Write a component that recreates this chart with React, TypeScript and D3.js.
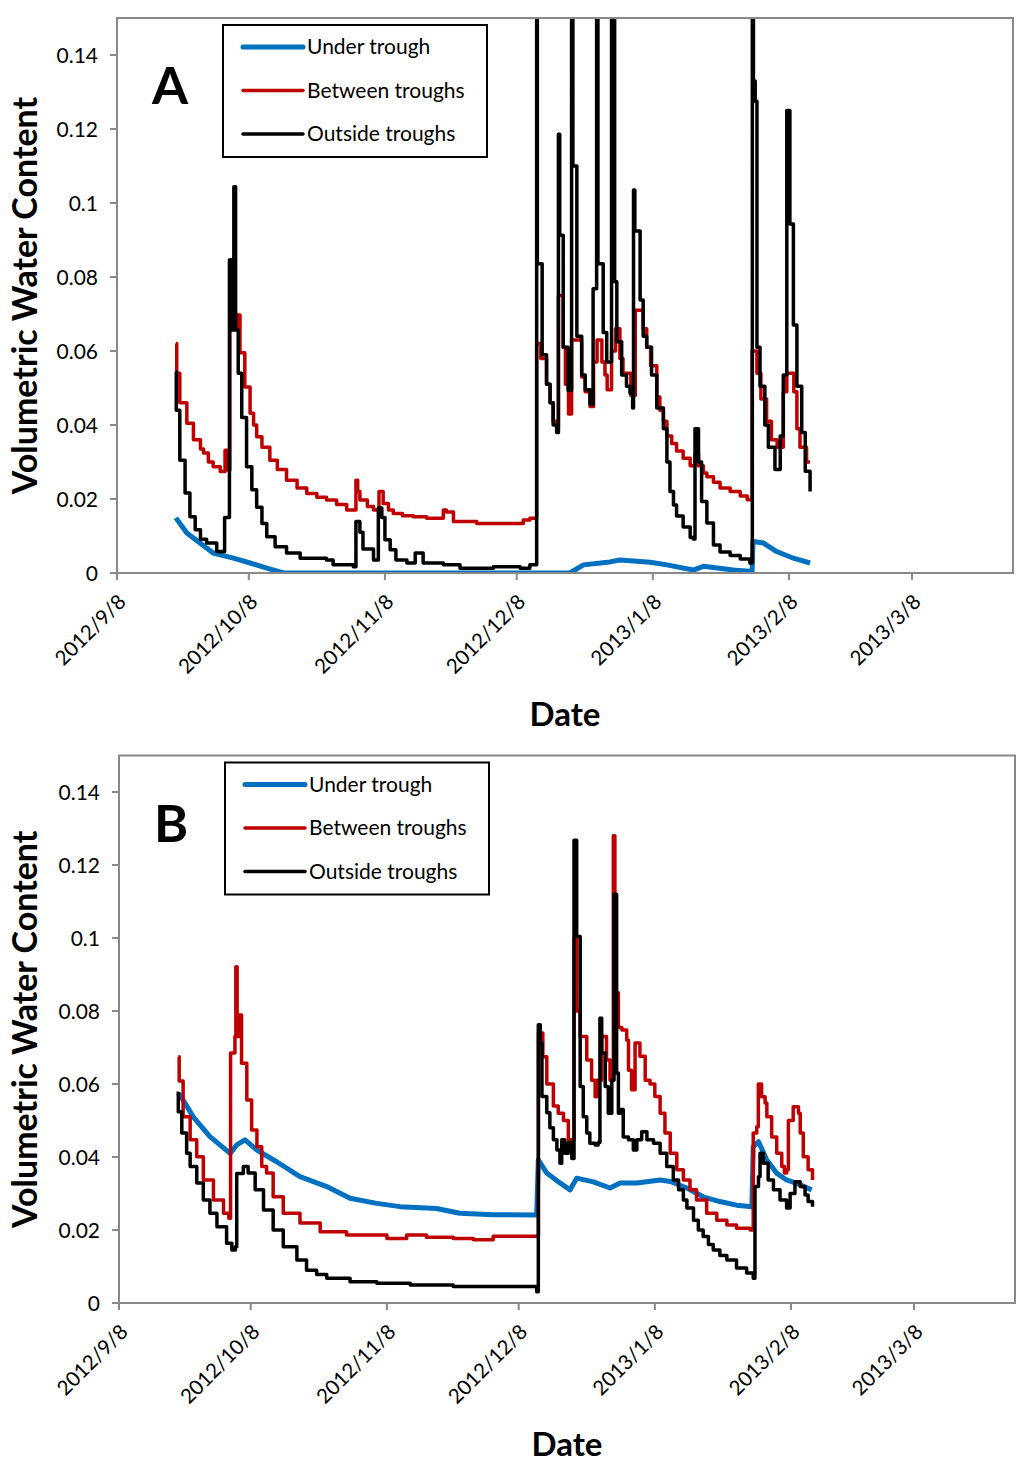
import React from 'react';
import * as d3 from 'd3';

type Pt = [number, number];

// x = days after 2012/9/8, y = volumetric water content (m3/m3)

// ---- panel A ----
const underA: Pt[] = [
  [13.4, 0.0149], [15.9, 0.0108], [18.9, 0.0081], [21.9, 0.0054], [26.5, 0.004], [30.3, 0.0027],
  [34.1, 0.0013], [37.9, 0.0], [103.1, 0.0], [106.2, 0.0022], [112.2, 0.003], [114.5, 0.0035],
  [121.4, 0.0029], [125.2, 0.0022], [131.2, 0.0008], [133.5, 0.0018], [140.3, 0.0008], [144.6, 0.0004],
  [144.8, 0.0085], [147.2, 0.0081], [150.2, 0.0058], [154.0, 0.004], [157.8, 0.0027],
];

const betweenA: Pt[] = [
  [13.4, 0.062], [13.6, 0.054], [14.3, 0.046], [15.9, 0.0405], [17.4, 0.036], [19.0, 0.0335],
  [19.7, 0.0324], [20.8, 0.03], [21.9, 0.0287], [23.5, 0.0274], [24.6, 0.0332], [25.3, 0.0278],
  [25.7, 0.0846], [26.5, 0.07], [27.2, 0.0657], [27.5, 0.0697], [28.0, 0.0595], [29.1, 0.0503],
  [30.3, 0.0432], [31.1, 0.04], [31.8, 0.0368], [33.0, 0.034], [34.8, 0.0305], [36.5, 0.028],
  [38.6, 0.0251], [41.0, 0.023], [43.2, 0.0215], [45.5, 0.0205], [47.7, 0.0197], [50.0, 0.0185],
  [52.3, 0.017], [54.4, 0.0251], [54.8, 0.022], [55.3, 0.0197], [57.0, 0.018], [58.4, 0.017],
  [59.65, 0.022], [60.6, 0.0188], [61.8, 0.017], [62.9, 0.0161], [65.0, 0.0155], [67.5, 0.0152],
  [70.5, 0.0148], [74.3, 0.017], [75.0, 0.0165], [76.6, 0.0139], [81.9, 0.0134], [92.5, 0.0143],
  [94.0, 0.0148], [95.55, 0.062], [96.5, 0.058], [97.8, 0.051], [98.6, 0.046], [99.3, 0.041],
  [100.1, 0.039], [100.5, 0.075], [101.6, 0.061], [102.1, 0.051], [102.8, 0.043], [103.5, 0.063],
  [105.8, 0.053], [106.6, 0.049], [107.7, 0.045], [108.5, 0.057], [109.3, 0.063], [110.4, 0.057],
  [111.1, 0.0535], [111.6, 0.0495], [112.6, 0.06], [113.5, 0.066], [114.5, 0.058], [115.2, 0.054],
  [117.0, 0.048], [118.0, 0.071], [119.8, 0.066], [120.6, 0.061], [121.5, 0.056], [122.9, 0.0476],
  [123.6, 0.044], [124.4, 0.041], [125.2, 0.037], [126.3, 0.035], [127.4, 0.033], [128.9, 0.031],
  [130.5, 0.029], [131.6, 0.032], [132.4, 0.029], [133.5, 0.027], [134.3, 0.026], [135.8, 0.0245],
  [137.3, 0.023], [139.6, 0.022], [141.9, 0.0208], [143.5, 0.0198], [144.6, 0.06], [145.7, 0.054],
  [146.6, 0.047], [147.9, 0.041], [149.0, 0.036], [150.3, 0.034], [151.7, 0.049], [152.5, 0.054],
  [154.1, 0.049], [154.8, 0.039], [155.5, 0.034], [157.0, 0.03], [157.8, 0.03],
];

const outsideA: Pt[] = [
  [13.4, 0.0544], [13.5, 0.044], [14.3, 0.0305], [15.5, 0.0216], [16.6, 0.0152], [17.8, 0.0117],
  [19.0, 0.0091], [20.4, 0.0081], [22.7, 0.0058], [24.5, 0.015], [25.6, 0.0846], [26.1, 0.0657],
  [26.6, 0.1044], [27.0, 0.0657], [27.6, 0.054], [28.4, 0.042], [29.5, 0.0287], [30.7, 0.0225],
  [31.8, 0.0178], [33.0, 0.0134], [34.1, 0.0098], [36.0, 0.0071], [38.6, 0.0054], [41.7, 0.004],
  [47.7, 0.0035], [49.2, 0.0022], [53.8, 0.0017], [54.4, 0.0139], [55.3, 0.011], [56.0, 0.0065],
  [58.4, 0.0035], [59.5, 0.0176], [60.3, 0.015], [61.0, 0.009], [62.2, 0.0063], [63.5, 0.0035],
  [66.0, 0.0027], [67.9, 0.0054], [69.7, 0.0027], [74.3, 0.0022], [78.1, 0.0013], [85.7, 0.0017],
  [91.8, 0.0013], [94.0, 0.0022], [95.55, 0.2], [95.7, 0.0836], [96.8, 0.059], [97.8, 0.051],
  [98.6, 0.046], [99.3, 0.04], [100.1, 0.038], [100.5, 0.1186], [100.8, 0.0913], [101.6, 0.061],
  [102.7, 0.0494], [103.5, 0.2], [103.8, 0.11], [104.7, 0.064], [105.8, 0.0535], [106.6, 0.0495],
  [107.7, 0.0456], [108.4, 0.0768], [109.2, 0.2], [109.5, 0.0836], [110.7, 0.065], [111.5, 0.057],
  [112.6, 0.2], [113.3, 0.0787], [113.8, 0.0625], [114.9, 0.0535], [116.0, 0.0505], [116.8, 0.0486],
  [117.4, 0.0446], [117.6, 0.1035], [117.9, 0.0924], [119.1, 0.0738], [119.8, 0.064], [120.6, 0.061],
  [121.7, 0.0535], [122.9, 0.0446], [124.4, 0.039], [125.2, 0.03], [125.9, 0.022], [126.7, 0.0184],
  [127.4, 0.0154], [128.9, 0.0124], [130.5, 0.0096], [131.2, 0.0092], [131.6, 0.039], [132.4, 0.03],
  [133.1, 0.0193], [134.3, 0.0135], [135.8, 0.0076], [137.3, 0.0057], [139.6, 0.0047], [141.9, 0.0038],
  [144.1, 0.0027], [144.65, 0.2], [144.9, 0.133], [145.3, 0.1275], [145.7, 0.061], [146.4, 0.0505],
  [147.5, 0.04], [148.3, 0.034], [149.8, 0.028], [151.0, 0.037], [151.7, 0.0535], [152.5, 0.125],
  [153.2, 0.0943], [154.0, 0.067], [154.8, 0.0505], [155.9, 0.038], [156.7, 0.0275], [157.8, 0.022],
];

// ---- panel B ----
const underB: Pt[] = [
  [13.5, 0.0575], [14.6, 0.0556], [16.9, 0.051], [20.7, 0.0456], [25.3, 0.041], [26.8, 0.0433],
  [28.7, 0.0447], [31.4, 0.0419], [35.9, 0.0387], [41.2, 0.0346], [47.3, 0.0319], [52.6, 0.0287],
  [58.7, 0.0273], [64.0, 0.0264], [72.3, 0.0259], [77.6, 0.0246], [85.2, 0.0242], [95.1, 0.0241],
  [95.47, 0.0392], [97.4, 0.0356], [100.4, 0.0329], [102.7, 0.031], [104.2, 0.0342], [108.0, 0.0332],
  [111.8, 0.0315], [114.1, 0.0329], [117.9, 0.0329], [123.2, 0.0337], [125.5, 0.0333], [129.3, 0.0315],
  [133.0, 0.0291], [136.8, 0.0278], [140.6, 0.0268], [144.1, 0.0264], [144.4, 0.0428], [145.6, 0.0442],
  [147.5, 0.0392], [149.8, 0.0355], [152.0, 0.0337], [154.3, 0.0328], [157.7, 0.031],
];

const betweenB: Pt[] = [
  [13.5, 0.0675], [13.7, 0.0608], [14.6, 0.051], [16.2, 0.0447], [17.7, 0.0401], [19.2, 0.0337],
  [21.5, 0.0282], [23.8, 0.0246], [25.0, 0.0232], [25.4, 0.0685], [26.4, 0.073], [26.6, 0.0921],
  [26.9, 0.073], [27.4, 0.0789], [27.9, 0.0657], [29.1, 0.0556], [30.2, 0.0474], [31.4, 0.0428],
  [32.5, 0.0374], [33.6, 0.0356], [35.1, 0.0291], [37.4, 0.0246], [41.2, 0.0219], [45.8, 0.0195],
  [51.8, 0.0186], [61.0, 0.0177], [65.5, 0.0186], [70.0, 0.018], [76.1, 0.0177], [80.7, 0.0173],
  [85.2, 0.0183], [95.5, 0.074], [96.5, 0.0675], [97.4, 0.06], [98.9, 0.054], [100.0, 0.052],
  [101.2, 0.05], [102.3, 0.0447], [103.6, 0.1], [104.2, 0.08], [105.0, 0.073], [106.5, 0.0666],
  [107.6, 0.061], [108.4, 0.0565], [108.8, 0.061], [109.9, 0.073], [111.0, 0.0666], [111.8, 0.061],
  [112.55, 0.128], [112.9, 0.085], [113.7, 0.0755], [114.5, 0.0748], [115.6, 0.072], [116.0, 0.0638],
  [116.7, 0.0584], [117.5, 0.0712], [118.6, 0.0676], [119.8, 0.061], [120.9, 0.06], [122.0, 0.0566],
  [123.2, 0.052], [124.3, 0.0466], [125.5, 0.041], [127.0, 0.0365], [128.5, 0.0337], [130.0, 0.031],
  [131.5, 0.0282], [133.8, 0.0246], [136.1, 0.0227], [138.4, 0.0214], [140.6, 0.0205], [143.7, 0.02],
  [144.4, 0.0466], [145.2, 0.0483], [145.56, 0.06], [146.3, 0.0565], [147.1, 0.0548], [147.5, 0.051],
  [148.6, 0.0455], [149.75, 0.041], [150.9, 0.0374], [151.5, 0.0356], [152.0, 0.0365], [152.4, 0.05],
  [153.5, 0.0538], [154.7, 0.052], [155.1, 0.0466], [155.8, 0.0401], [156.9, 0.0365], [157.9, 0.0337],
];

const outsideB: Pt[] = [
  [13.1, 0.0575], [13.5, 0.0524], [14.3, 0.0466], [15.4, 0.041], [16.2, 0.0374], [17.7, 0.0329],
  [19.2, 0.0282], [20.7, 0.0246], [22.3, 0.0209], [24.5, 0.0164], [25.7, 0.0145], [26.5, 0.0154],
  [26.8, 0.0355], [28.3, 0.0374], [29.4, 0.0356], [31.0, 0.031], [32.9, 0.0255], [35.1, 0.02],
  [37.4, 0.0154], [40.5, 0.0118], [42.7, 0.009], [45.0, 0.0078], [47.3, 0.0068], [52.6, 0.0058],
  [58.7, 0.0054], [66.3, 0.0049], [76.1, 0.0045], [95.1, 0.0031], [95.47, 0.0762], [95.9, 0.0712],
  [96.3, 0.0566], [97.4, 0.0521], [98.1, 0.048], [98.9, 0.0447], [99.7, 0.0419], [100.4, 0.0383],
  [100.8, 0.0447], [101.5, 0.041], [102.3, 0.044], [103.1, 0.0396], [103.6, 0.1268], [104.2, 0.1004],
  [105.0, 0.0593], [105.7, 0.051], [106.5, 0.0466], [107.2, 0.0438], [108.4, 0.0433], [109.1, 0.044],
  [109.5, 0.078], [109.9, 0.0685], [110.7, 0.0593], [111.4, 0.052], [112.2, 0.061], [112.7, 0.112],
  [113.3, 0.063], [113.7, 0.052], [114.1, 0.053], [114.8, 0.0455], [116.0, 0.0447], [117.1, 0.0419],
  [117.9, 0.0447], [119.0, 0.0469], [120.2, 0.0447], [121.7, 0.0438], [123.2, 0.041], [124.7, 0.0374],
  [126.2, 0.0337], [127.4, 0.031], [128.5, 0.0282], [129.3, 0.026], [130.8, 0.0227], [131.9, 0.02],
  [133.0, 0.0182], [134.2, 0.016], [135.3, 0.0145], [136.8, 0.013], [138.4, 0.0118], [140.6, 0.0096],
  [142.9, 0.0082], [144.4, 0.0068], [144.8, 0.0319], [145.6, 0.0346], [145.95, 0.041], [146.7, 0.0383],
  [147.8, 0.0337], [149.0, 0.031], [150.5, 0.0282], [152.0, 0.026], [152.8, 0.03], [153.9, 0.0332],
  [155.1, 0.0319], [156.2, 0.0296], [156.9, 0.0278], [157.9, 0.0264],
];

const seriesNames = ['Under trough', 'Between troughs', 'Outside troughs'];
const seriesColors = ['#0070C0', '#C00000', '#000000'];
const seriesWidths = [5, 3.5, 3.5];
const tickDates = ['2012-09-08', '2012-10-08', '2012-11-08', '2012-12-08', '2013-01-08', '2013-02-08', '2013-03-08'];
const yTicks = [0, 0.02, 0.04, 0.06, 0.08, 0.1, 0.12, 0.14];

const t0 = Date.UTC(2012, 8, 8);
const dayToDate = (d: number) => new Date(t0 + d * 864e5);
const xDomain = [new Date(t0), new Date(Date.UTC(2013, 2, 31))];
const fmtDate = d3.utcFormat('%Y/%-m/%-d');
const axisGrey = '#898989';
const font = 'Lato, "Open Sans", sans-serif';

interface PanelProps {
  id: string;
  left: number;
  right: number;
  top: number;
  bottom: number;
  series: Pt[][];
}

const Panel: React.FC<PanelProps> = ({ id, left, right, top, bottom, series }) => {
  const x = d3.scaleUtc().domain(xDomain).range([left, right]);
  const y = d3.scaleLinear().domain([0, 0.15]).range([bottom, top]);
  const px = (d: Pt) => x(dayToDate(d[0]));
  const py = (d: Pt) => y(d[1]);
  const smooth = d3.line<Pt>().x(px).y(py);
  const steps = d3.line<Pt>().x(px).y(py).curve(d3.curveStepAfter);
  const midX = (left + right) / 2;
  const midY = (top + bottom) / 2;
  const legX = left + 106;
  const legY = top + 7;

  return (
    <g fontFamily={font}>
      <defs>
        <clipPath id={`clip-${id}`}>
          <rect x={left} y={top} width={right - left} height={bottom - top} />
        </clipPath>
      </defs>

      <g clipPath={`url(#clip-${id})`} fill="none" strokeLinejoin="round">
        {series.map((s, i) => (
          <path
            key={i}
            d={(i === 0 ? smooth(s) : steps(s)) ?? ''}
            stroke={seriesColors[i]}
            strokeWidth={seriesWidths[i]}
          />
        ))}
      </g>

      <rect x={left} y={top} width={right - left} height={bottom - top} fill="none" stroke={axisGrey} strokeWidth={2} />

      {yTicks.map(t => (
        <g key={t}>
          <line x1={left - 7} x2={left} y1={y(t)} y2={y(t)} stroke={axisGrey} strokeWidth={2} />
          <text x={left - 19} y={y(t)} dy="0.36em" textAnchor="end" fontSize={21} fill="#000">
            {String(+t.toFixed(2))}
          </text>
        </g>
      ))}

      {tickDates.map(s => {
        const tx = x(new Date(s + 'T00:00:00Z'));
        return (
          <g key={s}>
            <line x1={tx} x2={tx} y1={bottom} y2={bottom + 7} stroke={axisGrey} strokeWidth={2} />
            <text
              transform={`translate(${tx + 5},${bottom + 25}) rotate(-45)`}
              textAnchor="end"
              dy="0.35em"
              fontSize={20.5}
              fill="#000"
            >
              {fmtDate(new Date(s + 'T00:00:00Z'))}
            </text>
          </g>
        );
      })}

      <text x={midX} y={bottom + 153} textAnchor="middle" fontSize={33} fontWeight="bold">
        Date
      </text>
      <text
        transform={`translate(37,${midY}) rotate(-90)`}
        textAnchor="middle"
        fontSize={34}
        fontWeight="bold"
      >
        Volumetric Water Content
      </text>

      <text x={left + 35} y={top + 86} fontSize={52} fontWeight="bold">
        {id}
      </text>

      <rect x={legX} y={legY} width={264} height={132} fill="#fff" stroke="#000" strokeWidth={2} />
      {seriesNames.map((name, i) => {
        const ly = legY + 22 + i * 43.5;
        return (
          <g key={name}>
            <line x1={legX + 20} x2={legX + 80} y1={ly} y2={ly} stroke={seriesColors[i]} strokeWidth={seriesWidths[i]} strokeLinecap="round" />
            <text x={legX + 84} y={ly} dy="0.35em" fontSize={21}>
              {name}
            </text>
          </g>
        );
      })}
    </g>
  );
};

export default function App() {
  return (
    <svg
      width={1024}
      height={1465}
      style={{ position: 'absolute', left: 0, top: 0, background: '#fff' }}
    >
      <rect width={1024} height={1465} fill="#fff" />
      <Panel id="A" left={117} right={1013} top={18} bottom={573} series={[underA, betweenA, outsideA]} />
      <Panel id="B" left={119} right={1015} top={755.5} bottom={1303} series={[underB, betweenB, outsideB]} />
    </svg>
  );
}
